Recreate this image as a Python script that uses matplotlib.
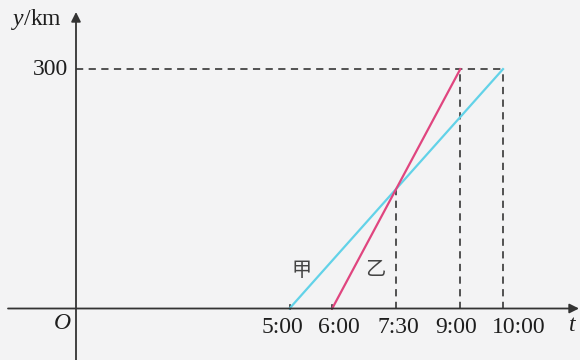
import matplotlib
matplotlib.use("Agg")
from matplotlib import pyplot as plt

plt.rcParams["font.family"] = ["Liberation Serif", "Noto Sans CJK SC", "DejaVu Sans"]
plt.rcParams["mathtext.fontset"] = "custom"
plt.rcParams["mathtext.rm"] = "Liberation Serif"
plt.rcParams["mathtext.it"] = "Liberation Serif:italic"

# data (hours after midnight, km)
TICK_TIMES = [5, 6, 7.5, 9, 10]
TICK_LABELS = ["5:00", "6:00", "7:30", "9:00", "10:00"]
DISTANCE = 300
JIA_T = [5, 10]
JIA_Y = [0, 300]
YI_T = [6, 9]
YI_Y = [0, 300]
MEET_T = 7.5
MEET_Y = 150

BG = "#f3f3f4"
AXIS = "#333333"
DASH = "#444444"
TEXT = "#1e1e1e"

# pixel calibration: origin at (76, 308.5), 42.7 px per hour, 0.798 px per km
px_h = 42.7
px_km = 0.798
ox, oy = 76, 308.5
W, H = 580, 360
# horizontal nudge of each time label in pixels (as typeset in the source)
LABEL_SHIFT = [-7, 7, 2, -4, 16]

fig = plt.figure(figsize=(5.8, 3.6), dpi=100, facecolor=BG)
ax = fig.add_axes([0, 0, 1, 1])
ax.set_facecolor(BG)
ax.set_xlim(-ox / px_h, (W - ox) / px_h)
ax.set_ylim(-(H - oy) / px_km, oy / px_km)
ax.axis("off")

y_bottom = ax.get_ylim()[0]

# axes with arrows
ax.annotate("", xy=((579 - ox) / px_h, 0), xytext=((8 - ox) / px_h, 0),
            arrowprops=dict(arrowstyle="-|>", color=AXIS, lw=1.3, mutation_scale=14, shrinkA=0, shrinkB=0))
ax.annotate("", xy=(0, (oy - 12) / px_km), xytext=(0, y_bottom),
            arrowprops=dict(arrowstyle="-|>", color=AXIS, lw=1.3, mutation_scale=14, shrinkA=0, shrinkB=0))

# dashed guides
dash = dict(color=DASH, lw=1.3, linestyle=(0, (4, 3)))
ax.plot([0, JIA_T[-1]], [DISTANCE, DISTANCE], **dash)
ax.plot([MEET_T, MEET_T], [0, MEET_Y], **dash)
ax.plot([YI_T[-1], YI_T[-1]], [0, YI_Y[-1]], **dash)
ax.plot([JIA_T[-1], JIA_T[-1]], [0, JIA_Y[-1]], **dash)

# small ticks at start times
for t in TICK_TIMES[:2]:
    ax.plot([t, t], [0, 4 / px_km], color=AXIS, lw=1.2)

# travel lines
ax.plot(JIA_T, JIA_Y, color="#62d2e8", lw=1.6)
ax.plot(YI_T, YI_Y, color="#e0457f", lw=1.6)

# labels
for t, lab, s in zip(TICK_TIMES, TICK_LABELS, LABEL_SHIFT):
    ax.text(t + s / px_h, -19 / px_km, lab, ha="center", va="center", fontsize=17, color=TEXT)
ax.text(-8 / px_h, DISTANCE, "300", ha="right", va="center", fontsize=17, color=TEXT)
ax.text(-14 / px_h, -15 / px_km, "$O$", ha="center", va="center", fontsize=17, color=TEXT)
ax.text((573 - ox) / px_h, -17 / px_km, "$t$", ha="center", va="center", fontsize=17, color=TEXT)
ax.text((36 - ox) / px_h, (oy - 20) / px_km, "$y$/km", ha="center", va="center", fontsize=17, color=TEXT)
ax.text((302 - ox) / px_h, (oy - 271) / px_km, "甲", ha="center", va="center", fontsize=14.5,
        color="#444444", family=["Noto Sans CJK SC"])
ax.text((375 - ox) / px_h, (oy - 270) / px_km, "乙", ha="center", va="center", fontsize=14.5,
        color="#444444", family=["Noto Sans CJK SC"])

fig.savefig("out.png", dpi=100, facecolor=BG)
